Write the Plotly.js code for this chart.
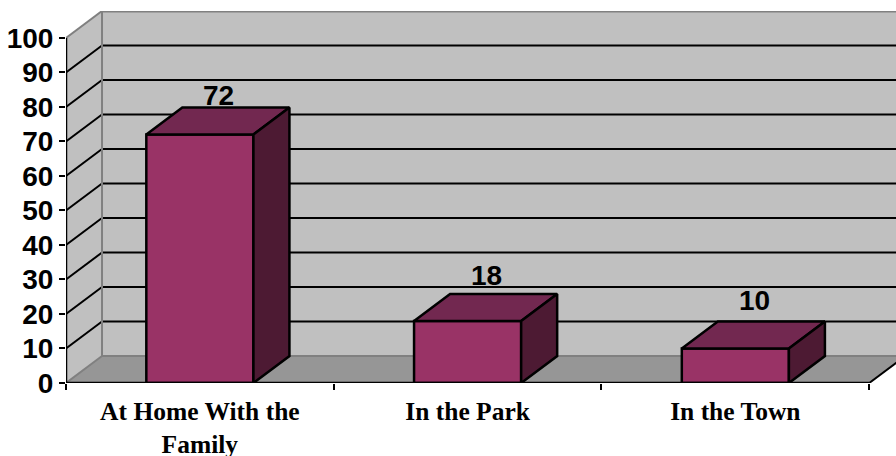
<!DOCTYPE html>
<html>
<head>
<meta charset="utf-8">
<script src="https://cdn.plot.ly/plotly-3.0.1.min.js"></script>
<style>html,body{margin:0;padding:0;background:#fff}</style>
</head>
<body>
<div id="chart" style="width:896px;height:456px"></div>
<script>
const categories = ["At Home With the<br>Family", "In the Park", "In the Town"];
const values = [72, 18, 10];
const valueLabels = ["72", "18", "10"];
const yTicks = [0, 10, 20, 30, 40, 50, 60, 70, 80, 90, 100];
const categorySeparators = [-0.5, 0.5, 1.5, 2.5];

// Pseudo-3D projection of the chart box, in axis units
const depthX = 0.1345, depthY = 7.81, barHalf = 0.2;
const xMin = -0.5, xFront = 2.5, xMax = 2.6, yMax = 107.8, yTop = 100;
const labelLift = [-3, 3, 6];

const WALL = "#c0c0c0", FLOOR = "#969696", EDGE = "#808080";
const FRONT = "#993366", TOP = "#722850", SIDE = "#4d1a33";
const sans = "'Liberation Sans', Arial, sans-serif";
const serif = "'Liberation Serif', 'Times New Roman', serif";

function poly(pts) {
  return "M" + pts.map(p => p[0] + "," + p[1]).join("L") + "Z";
}
function fillShape(pts, color) {
  return {type: "path", xref: "x", yref: "y", layer: "below", path: poly(pts),
          fillcolor: color, line: {width: 0}};
}
function seg(x0, y0, x1, y1, color, w) {
  return {type: "line", xref: "x", yref: "y", layer: "below", x0, y0, x1, y1,
          line: {color, width: w}};
}

const shapes = [
  fillShape([[xMin + depthX, depthY], [xMax + 1, depthY], [xMax + 1, yTop + depthY], [xMin + depthX, yTop + depthY]], WALL),
  fillShape([[xMin, 0], [xMin + depthX, depthY], [xMin + depthX, yTop + depthY], [xMin, yTop]], WALL),
  fillShape([[xMin, 0], [xFront, 0], [xFront + depthX, depthY], [xMin + depthX, depthY]], FLOOR)
];
yTicks.slice(1, -1).forEach(v => {
  shapes.push(seg(xMin, v, xMin + depthX, v + depthY, "#000", 2));
  shapes.push(seg(xMin + depthX, v + depthY, xMax + 1, v + depthY, "#000", 2));
});
shapes.push(seg(xMin, yTop, xMin + depthX, yTop + depthY, EDGE, 2));
shapes.push(seg(xMin + depthX, yTop + depthY, xMax + 1, yTop + depthY, EDGE, 3));
shapes.push(seg(xMin + depthX, depthY, xMin + depthX, yTop + depthY, EDGE, 2));
shapes.push(seg(xMin + depthX, depthY, xMax + 1, depthY, EDGE, 2));
shapes.push(seg(xMin, 0, xMin + depthX, depthY, EDGE, 2));
shapes.push(seg(xFront, 0, xFront + depthX, depthY, "#000", 2));

const xs = values.map((_, i) => i);

const traces = [{
  type: "bar", x: xs, y: values, width: barHalf * 2, hoverinfo: "skip",
  marker: {color: FRONT, line: {color: "#000", width: 2.5}}
}];

values.forEach((v, i) => {
  const l = i - barHalf, r = i + barHalf;
  traces.push({
    type: "scatter", mode: "lines", fill: "toself", fillcolor: TOP, hoverinfo: "skip",
    x: [l, l + depthX, r + depthX, r, l], y: [v, v + depthY, v + depthY, v, v],
    line: {color: "#000", width: 2.5}
  });
  traces.push({
    type: "scatter", mode: "lines", fill: "toself", fillcolor: SIDE, hoverinfo: "skip",
    x: [r, r + depthX, r + depthX, r, r], y: [v, v + depthY, depthY, 0, v],
    line: {color: "#000", width: 2.5}
  });
});

// Axis lines stop at the front plane
traces.push({
  type: "scatter", mode: "lines", hoverinfo: "skip", cliponaxis: false,
  x: [xMin, xMin, xFront], y: [yTop, 0, 0], line: {color: "#000", width: 2.5}
});
// Carries the secondary axis that draws the category separators
traces.push({
  type: "scatter", mode: "lines", hoverinfo: "skip", xaxis: "x2", yaxis: "y",
  x: categorySeparators, y: categorySeparators.map(() => 0), line: {color: "rgba(0,0,0,0)", width: 0}
});

const annotations = values.map((v, i) => ({
  xref: "x", yref: "y", x: i + depthX / 2 + 0.004, y: v + depthY, yshift: labelLift[i],
  text: valueLabels[i], showarrow: false, yanchor: "bottom", xanchor: "center",
  borderpad: 0, borderwidth: 0,
  font: {family: sans, size: 28, color: "#000", weight: 700}
}));

const layout = {
  width: 896, height: 456, showlegend: false, barmode: "overlay",
  paper_bgcolor: "#fff", plot_bgcolor: "#fff",
  margin: {l: 66, r: 0, t: 11, b: 72.5, pad: 0},
  shapes, annotations,
  xaxis: {
    range: [xMin, xMax], tickmode: "array", tickvals: xs, ticktext: categories,
    showgrid: false, zeroline: false, showline: false, fixedrange: true,
    ticks: "outside", ticklen: 5, tickcolor: "rgba(0,0,0,0)", tickangle: 0,
    tickfont: {family: serif, size: 25.5, color: "#000", weight: 700}
  },
  xaxis2: {
    overlaying: "x", anchor: "y", side: "bottom", range: [xMin, xMax],
    tickmode: "array", tickvals: categorySeparators, showticklabels: false,
    showgrid: false, zeroline: false, showline: false, fixedrange: true,
    ticks: "outside", ticklen: 6, tickwidth: 2, tickcolor: "#000"
  },
  yaxis: {
    range: [0, yMax], tickmode: "array", tickvals: yTicks,
    showgrid: false, zeroline: false, showline: false, fixedrange: true,
    ticks: "outside", ticklen: 6, tickwidth: 2, tickcolor: "#000",
    tickfont: {family: sans, size: 28, color: "#000", weight: 700}
  }
};

Plotly.newPlot("chart", traces, layout, {staticPlot: true, displayModeBar: false});
</script>
</body>
</html>
